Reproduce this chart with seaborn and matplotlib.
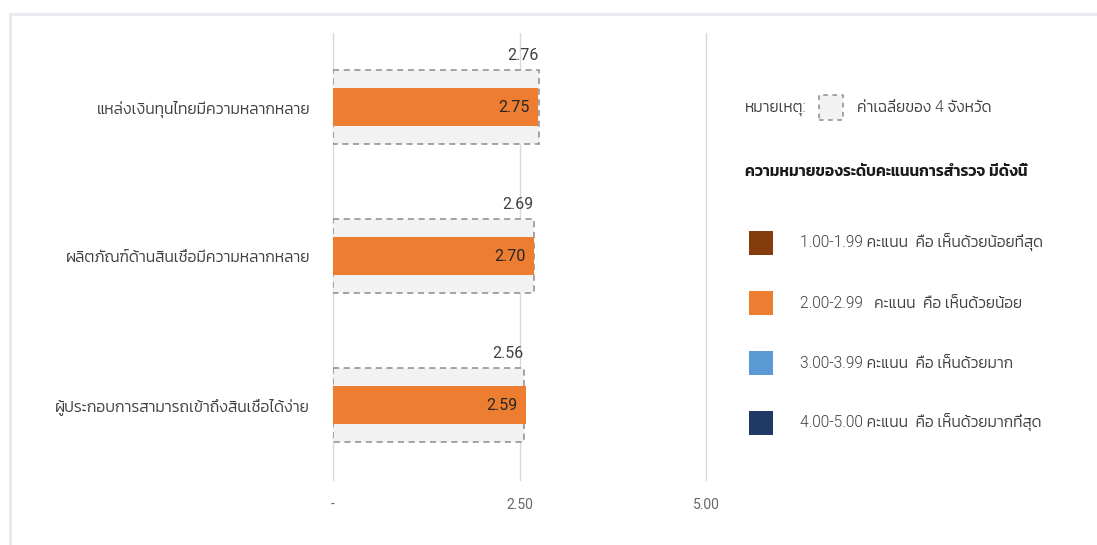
import matplotlib
matplotlib.use("Agg")
import matplotlib.pyplot as plt
import matplotlib.patches as mpatches
import seaborn as sns
import pandas as pd

categories = ["แหล่งเงินทุนไทยมีความหลากหลาย",
              "ผลิตภัณฑ์ด้านสินเชื่อมีความหลากหลาย",
              "ผู้ประกอบการสามารถเข้าถึงสินเชื่อได้ง่าย"]
scores = [2.75, 2.70, 2.59]
averages = [2.76, 2.69, 2.56]
x_ticks = [0, 2.5, 5.0]
x_tick_labels = ["-", "2.50", "5.00"]
legend_labels = ["1.00-1.99 คะแนน  คือ เห็นด้วยน้อยที่สุด",
                 "2.00-2.99   คะแนน  คือ เห็นด้วยน้อย",
                 "3.00-3.99 คะแนน  คือ เห็นด้วยมาก",
                 "4.00-5.00 คะแนน  คือ เห็นด้วยมากที่สุด"]
legend_colors = ["#843C0C", "#ED7D31", "#5B9BD5", "#1F3864"]
note_label = "หมายเหตุ:"
avg_label = "ค่าเฉลี่ยของ 4 จังหวัด"
legend_title = "ความหมายของระดับคะแนนการสำรวจ มีดังนี้"

sns.set_theme(style="white")
FONT = ["Roboto", "Kanit", "DejaVu Sans"]
plt.rcParams["font.family"] = FONT
TXT = "#404040"

df = pd.DataFrame({"cat": categories, "score": scores, "avg": averages})

W, H = 1097, 545
fig = plt.figure(figsize=(W / 100, H / 100), dpi=100)
ax = fig.add_axes([333 / W, 1 - 479.5 / H, 373 / W, 447 / H])

sns.barplot(data=df, x="avg", y="cat", width=0.5, color="#F2F2F2", saturation=1,
            edgecolor="#8c8c8c", linewidth=1.1, linestyle=(0, (4, 3)), ax=ax, zorder=2)
sns.barplot(data=df, x="score", y="cat", width=0.25, color="#ED7D31", saturation=1,
            linewidth=0, ax=ax, zorder=3)

ax.set_xlim(0, 5)
ax.set_ylim(2.5, -0.5)
ax.set_xticks(x_ticks)
ax.set_xticklabels(x_tick_labels)
for s in ax.spines.values():
    s.set_visible(False)
ax.grid(False)
for xv in x_ticks:
    ax.axvline(xv, color="#d9d9d9", linewidth=1, zorder=1, clip_on=False)
ax.set_xlabel("")
ax.set_ylabel("")
ax.tick_params(axis="x", length=0, pad=13, labelsize=10, labelcolor="#666666")
ax.tick_params(axis="y", length=0, pad=16.5, labelsize=11.3, labelcolor=TXT)
for lab in ax.get_yticklabels():
    lab.set_fontweight(300)

for i, (s, a) in enumerate(zip(scores, averages)):
    ax.text(a, i - 0.345, f"{a:.2f}", ha="right", va="center", fontsize=11.5,
            color=TXT, zorder=5)
    ax.text(s - 0.12, i, f"{s:.2f}", ha="right", va="center", fontsize=11.5,
            color="#262626", zorder=5)

# frame lines
fig.add_artist(plt.Line2D([10 / W, 1], [1 - 14 / H, 1 - 14 / H], color="#e8e8ef", linewidth=2))
fig.add_artist(plt.Line2D([10 / W, 10 / W], [0, 1 - 14 / H], color="#e8e8ef", linewidth=2))

def fy(y):
    return 1 - y / H

fig.text(745 / W, fy(108), note_label, ha="left", va="center", fontsize=11.2,
         color=TXT, fontweight=300)
fig.add_artist(mpatches.Rectangle((819 / W, fy(120)), 24 / W, 25 / H, facecolor="#F2F2F2",
                                  edgecolor="#8c8c8c", linewidth=1.1, linestyle=(0, (3, 3)),
                                  transform=fig.transFigure))
fig.text(857 / W, fy(108), avg_label, ha="left", va="center", fontsize=11.2,
         color=TXT, fontweight=300)
fig.text(745 / W, fy(172), legend_title, ha="left", va="center", fontsize=11.2,
         color="#1a1a1a", fontweight=600)
for k, (lab, col) in enumerate(zip(legend_labels, legend_colors)):
    yc = 243 + 60 * k
    fig.add_artist(mpatches.Rectangle((749 / W, fy(yc + 12)), 24 / W, 24 / H,
                                      facecolor=col, edgecolor="none",
                                      transform=fig.transFigure))
    fig.text(800 / W, fy(yc), lab, ha="left", va="center", fontsize=11.2,
             color=TXT, fontweight=300)

fig.savefig("out.png", dpi=100)
